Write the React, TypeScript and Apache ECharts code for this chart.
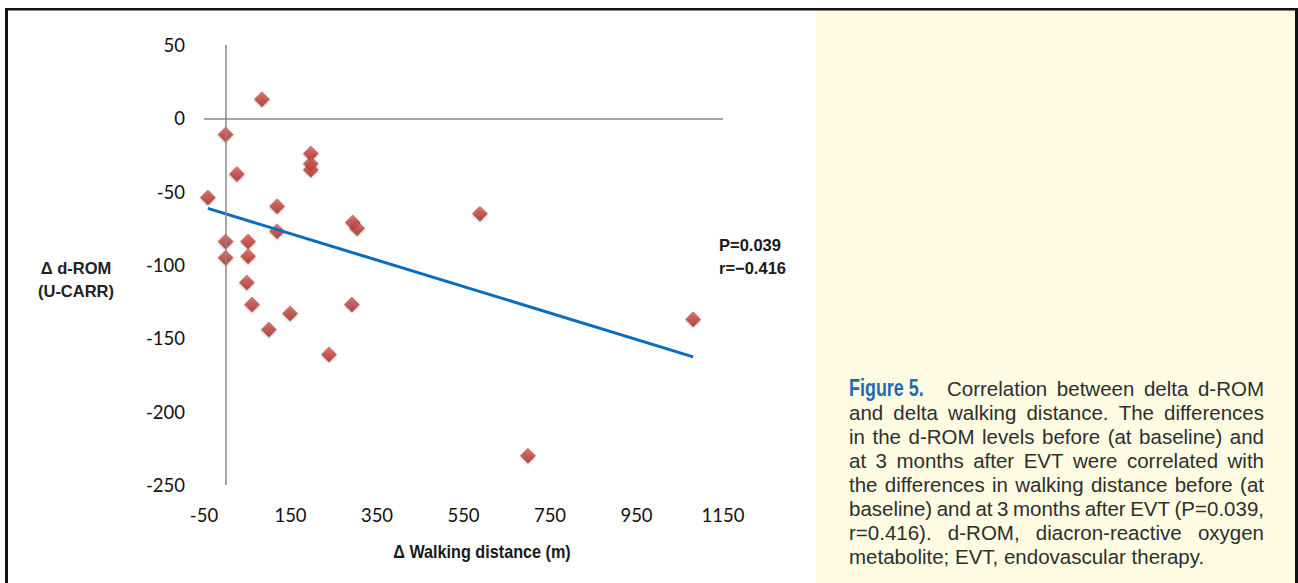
import React, { useEffect, useRef } from "react";
import * as echarts from "echarts";

// Δ walking distance (m) and Δ d-ROM (U-CARR) per patient
const walkDelta = [84, 0, 26, -41, 197, 197, 197, 119, 119, 0, 0, 52, 52, 49, 61, 100, 149, 239, 294, 304, 292, 588, 699, 1081];
const dromDelta = [13, -11, -38, -54, -24, -31, -35, -60, -77, -84, -95, -84, -94, -112, -127, -144, -133, -161, -71, -75, -127, -65, -230, -137];

// linear trend line end points
const trendX = [-41, 1081];
const trendY = [-61.4, -162.6];

const xTickValues = [-50, 150, 350, 550, 750, 950, 1150];
const yMin = -250;
const yMax = 50;
const yStep = 50;

const statLines = ["P=0.039", "r=\u22120.416"];
const yTitleLines = ["\u0394 d-ROM", "(U-CARR)"];
const xTitle = "\u0394 Walking distance (m)";
const figLabel = "Figure 5.";
const captionLines = [
  "Correlation between delta d-ROM",
  "and delta walking distance. The differences",
  "in the d-ROM levels before (at baseline) and",
  "at 3 months after EVT were correlated with",
  "the differences in walking distance before (at",
  "baseline) and at 3 months after EVT (P=0.039,",
  "r=0.416). d-ROM, diacron-reactive oxygen",
  "metabolite; EVT, endovascular therapy.",
];

export default function App() {
  const ref = useRef<HTMLDivElement>(null);

  useEffect(() => {
    const chart = echarts.init(ref.current!, null, { renderer: "svg" });

    const canvas = document.createElement("canvas");
    const ctx = canvas.getContext("2d")!;
    const capFont = '20.5px "Liberation Sans", Arial, sans-serif';
    ctx.font = capFont;

    const graphics: any[] = [];
    // yellow caption panel
    graphics.push({ type: "rect", shape: { x: 816, y: 10, width: 479, height: 573 }, style: { fill: "#fffce3" }, z: -10 });
    // outer border
    graphics.push({ type: "rect", shape: { x: 5, y: 8, width: 1293, height: 2.5 }, style: { fill: "#111" } });
    graphics.push({ type: "rect", shape: { x: 5, y: 8, width: 3, height: 575 }, style: { fill: "#111" } });
    graphics.push({ type: "rect", shape: { x: 1295, y: 8, width: 3, height: 575 }, style: { fill: "#111" } });

    // y axis title
    yTitleLines.forEach((t, i) => {
      graphics.push({
        type: "text",
        x: 76,
        y: 268 + i * 23,
        style: { text: t, font: 'bold 16.5px "Liberation Sans", Arial, sans-serif', fill: "#222", textAlign: "center", textVerticalAlign: "middle" },
      });
    });
    // x axis title
    graphics.push({
      type: "text",
      x: 482,
      y: 552,
      scaleX: 0.9,
      style: { text: xTitle, font: 'bold 18px "Liberation Sans", Arial, sans-serif', fill: "#1a1a1a", textAlign: "center", textVerticalAlign: "middle" },
    });
    // stats
    statLines.forEach((t, i) => {
      graphics.push({
        type: "text",
        x: 719,
        y: 245 + i * 22.5,
        style: { text: t, font: 'bold 16.5px "Liberation Sans", Arial, sans-serif', fill: "#1a1a1a", textAlign: "left", textVerticalAlign: "middle" },
      });
    });

    // caption
    const capLeft = 849;
    const capRight = 1264;
    const capTop = 388;
    const lh = 24.1;
    graphics.push({
      type: "text",
      x: capLeft,
      y: capTop,
      scaleX: 0.78,
      style: { text: figLabel, font: 'bold 23px "Liberation Sans", Arial, sans-serif', fill: "#1f6bb3", textAlign: "left", textVerticalAlign: "middle" },
    });
    captionLines.forEach((line, i) => {
      const y = capTop + i * lh;
      const x0 = i === 0 ? 947 : capLeft;
      const words = line.split(" ");
      const last = i === captionLines.length - 1;
      const widths = words.map((w) => ctx.measureText(w).width);
      const total = widths.reduce((a, b) => a + b, 0);
      const space = ctx.measureText(" ").width;
      const gap = last || words.length < 2 ? space : (capRight - x0 - total) / (words.length - 1);
      let x = x0;
      words.forEach((w, j) => {
        graphics.push({
          type: "text",
          x,
          y,
          style: { text: w, font: capFont, fill: "#2e2e2e", textAlign: "left", textVerticalAlign: "middle" },
        });
        x += widths[j] + gap;
      });
    });

    const points = walkDelta.map((x, i) => [x, dromDelta[i]]);
    const trend = trendX.map((x, i) => [x, trendY[i]]);

    chart.setOption({
      animation: false,
      backgroundColor: "#ffffff",
      grid: { left: 204, right: 575, top: 45, bottom: 98 },
      xAxis: {
        type: "value",
        min: xTickValues[0],
        max: xTickValues[xTickValues.length - 1],
        axisLine: { show: false },
        axisTick: { show: false },
        splitLine: { show: false },
        axisLabel: {
          customValues: xTickValues,
          formatter: (v: number) => String(v),
          margin: 20,
          color: "#111",
          fontSize: 18.5,
          fontFamily: "Lato, sans-serif",
        },
      },
      yAxis: {
        type: "value",
        min: yMin,
        max: yMax,
        interval: yStep,
        axisLine: { show: false },
        axisTick: { show: false },
        splitLine: { show: false },
        axisLabel: {
          formatter: (v: number) => String(v),
          margin: 19,
          color: "#111",
          fontSize: 18.5,
          fontFamily: "Lato, sans-serif",
        },
      },
      series: [
        {
          type: "line",
          data: [],
          z: 1,
          silent: true,
          markLine: {
            silent: true,
            symbol: ["none", "none"],
            label: { show: false },
            lineStyle: { color: "#8c8782", width: 1.5, type: "solid" },
            data: [{ xAxis: 0 }, { yAxis: 0 }],
          },
        },
        {
          type: "scatter",
          data: points,
          z: 3,
          symbol: "diamond",
          symbolSize: 15,
          itemStyle: {
            color: new echarts.graphic.LinearGradient(0, 0, 0, 1, [
              { offset: 0, color: "#d9605a" },
              { offset: 0.5, color: "#c0403a" },
              { offset: 1, color: "#9f2a25" },
            ]),
            borderColor: "#a8302b",
            borderWidth: 0.5,
            shadowBlur: 2,
            shadowOffsetY: 1,
            shadowColor: "rgba(0,0,0,0.35)",
          },
        },
        {
          type: "line",
          data: trend,
          z: 4,
          symbol: "none",
          lineStyle: { color: "#0a6cbf", width: 3 },
        },
      ],
      graphic: graphics,
    });

    return () => chart.dispose();
  }, []);

  return <div ref={ref} style={{ position: "fixed", left: 0, top: 0, width: 1298, height: 583 }} />;
}
